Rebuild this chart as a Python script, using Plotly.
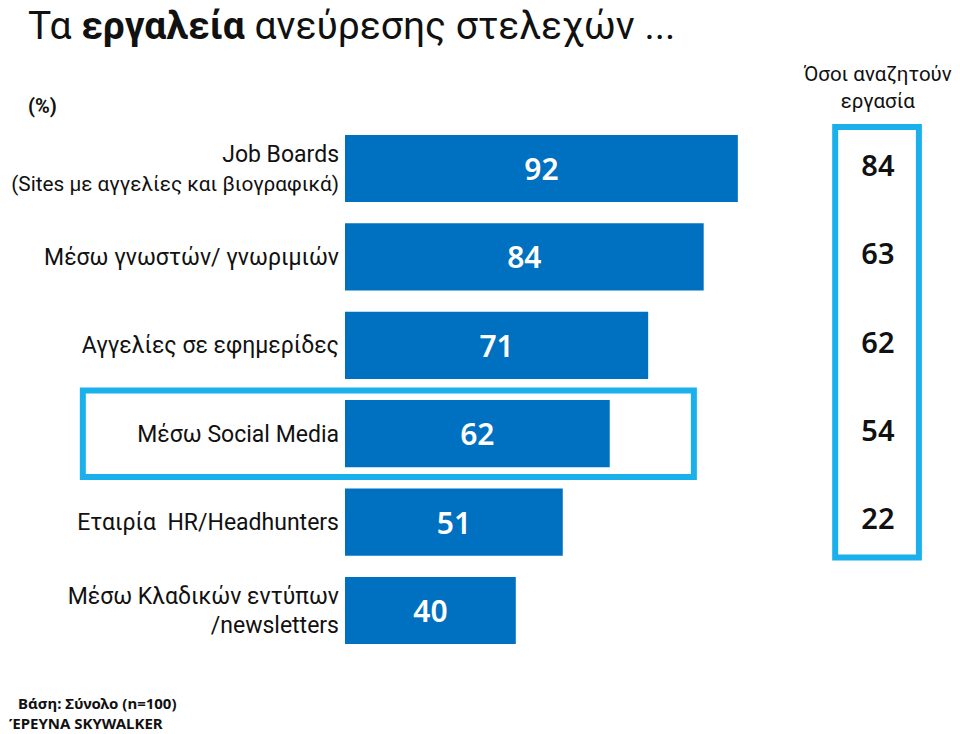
import plotly.graph_objects as go

categories = [
    "Job Boards<br>(Sites με αγγελίες και βιογραφικά)",
    "Μέσω γνωστών/ γνωριμιών",
    "Αγγελίες σε εφημερίδες",
    "Μέσω Social Media",
    "Εταιρία  HR/Headhunters",
    "Μέσω Κλαδικών εντύπων<br>/newsletters",
]
total_values = [92, 84, 71, 62, 51, 40]
jobseeker_values = [84, 63, 62, 54, 22]
positions = list(range(len(categories)))

BAR = "#0070C0"
BOX = "#1AB0EC"
FONT = "Noto Sans"
LABEL_FONT = "Roboto"

# body margin is removed in the page, so the figure fills the 960x734 window
OFF = 0
W, H = 960 - OFF, 734 - OFF


def px(x):
    return (x - OFF) / W


def py(y):
    return 1 - (y - OFF) / H


def fit_label(label, max_chars=28, small_size=20.8):
    # shrink any very long line so it fits left of the bars
    lines = label.split("<br>")
    out = []
    for ln in lines:
        if len(ln) > max_chars:
            out.append(f'<span style="font-size:{small_size}px">{ln}</span>')
        else:
            out.append(ln)
    return "<br>".join(out)


SCALE_X = 4.27   # px per percentage point
BAR_X0 = 345 - OFF
ROW_H = 88.4
ROW0 = 168.5 - OFF

fig = go.Figure()
fig.add_trace(go.Bar(
    x=total_values, y=positions, orientation="h",
    marker=dict(color=BAR, line=dict(width=0)),
    width=0.76,
    text=[str(v) for v in total_values],
    textposition="inside", insidetextanchor="middle",
    textfont=dict(family=FONT, size=30, color="white", weight=600),
    textangle=0,
    hoverinfo="skip",
))
fig.add_trace(go.Scatter(
    x=[124.8] * len(jobseeker_values), y=positions[:len(jobseeker_values)],
    mode="text", text=[str(v) for v in jobseeker_values],
    textfont=dict(family=FONT, size=29, color="#111111", weight=600),
    textposition="middle center", hoverinfo="skip",
))

shapes = [
    dict(type="rect", xref="x", yref="y", x0=114.8, x1=134.4, y0=-0.47, y1=4.40,
         line=dict(color=BOX, width=6), layer="above"),
    dict(type="rect", xref="x", yref="y", x0=-61.4, x1=81.7, y0=2.51, y1=3.49,
         line=dict(color=BOX, width=6), layer="above"),
]

annotations = [
    dict(xref="paper", yref="paper", x=px(26), y=py(26), xanchor="left", yanchor="middle",
         text="Τα <b>εργαλεία</b> ανεύρεσης στελεχών ...", showarrow=False,
         font=dict(family="Roboto", size=39, color="#111111")),
    dict(xref="paper", yref="paper", x=px(26), y=py(106), xanchor="left", yanchor="middle",
         text="<b>(%)</b>", showarrow=False, font=dict(family="Roboto", size=20, color="#111111")),
    dict(xref="x", yref="paper", x=124.8, y=py(87), xanchor="center", yanchor="middle",
         text="Όσοι αναζητούν<br>εργασία", showarrow=False,
         font=dict(family=LABEL_FONT, size=20.5, color="#111111")),
    dict(xref="paper", yref="paper", x=px(16), y=py(703), xanchor="left", yanchor="middle",
         text="<b>Βάση: Σύνολο (n=100)</b>", showarrow=False,
         font=dict(family=FONT, size=15, color="#111111")),
    dict(xref="paper", yref="paper", x=px(7), y=py(723), xanchor="left", yanchor="middle",
         text="<b>ΈΡΕΥΝΑ SKYWALKER</b>", showarrow=False,
         font=dict(family=FONT, size=15, color="#111111")),
]

fig.update_layout(
    width=W, height=H,
    margin=dict(l=0, r=0, t=0, b=0, autoexpand=False),
    paper_bgcolor="white", plot_bgcolor="white",
    showlegend=False,
    xaxis=dict(domain=[0, 1], range=[-BAR_X0 / SCALE_X, (W - BAR_X0) / SCALE_X],
               visible=False, fixedrange=True, automargin=False),
    yaxis=dict(domain=[0, 1], range=[(H - ROW0) / ROW_H, -ROW0 / ROW_H],
               anchor="free", position=BAR_X0 / W, automargin=False,
               tickvals=positions, ticktext=[fit_label(c) for c in categories],
               showgrid=False, zeroline=False,
               showline=False, ticks="", ticklabelstandoff=6,
               tickfont=dict(family=LABEL_FONT, size=23, color="#111111")),
    shapes=shapes, annotations=annotations,
)

fig.write_html(
    "out.html",
    config={"displayModeBar": False},
    post_script="document.body.style.margin='0';document.body.style.overflow='hidden';",
)
